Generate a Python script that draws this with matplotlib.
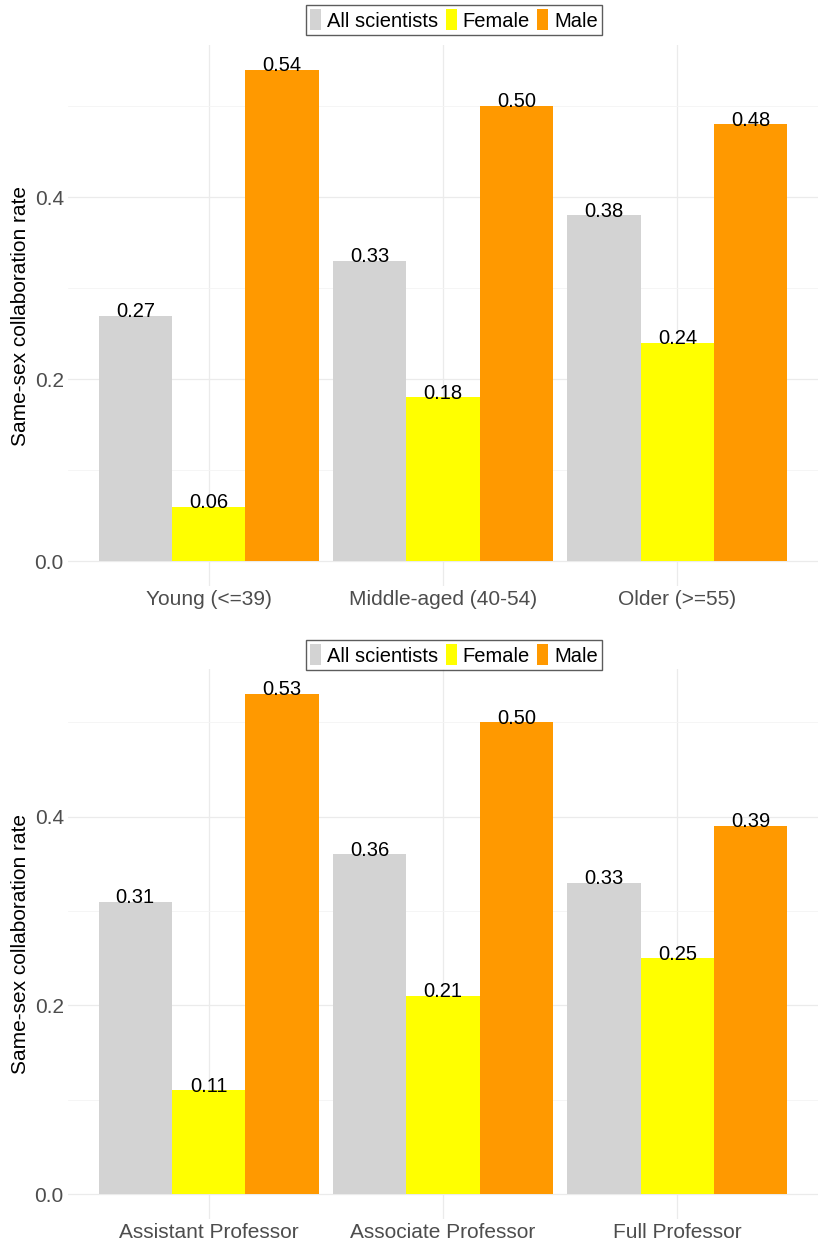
import numpy as np
import matplotlib
matplotlib.use('Agg')
import matplotlib.pyplot as plt
import matplotlib.ticker as tick
from matplotlib.patches import Patch

plt.rcParams['font.family'] = ['Liberation Sans', 'DejaVu Sans']

# data
groups = ['All scientists', 'Female', 'Male']
colors = ['#d3d3d3', '#ffff00', '#ff9900']

age_cats = ['Young (<=39)', 'Middle-aged (40-54)', 'Older (>=55)']
age_all = [0.27, 0.33, 0.38]
age_female = [0.06, 0.18, 0.24]
age_male = [0.54, 0.50, 0.48]

rank_cats = ['Assistant Professor', 'Associate Professor', 'Full Professor']
rank_all = [0.31, 0.36, 0.33]
rank_female = [0.11, 0.21, 0.25]
rank_male = [0.53, 0.50, 0.39]

W, H = 832, 1241
fig = plt.figure(figsize=(W/100, H/100), dpi=100)

def px_axes(left, top, right, bottom):
    return fig.add_axes([left/W, 1 - bottom/H, (right-left)/W, (bottom-top)/H])

def panel(ax, cats, series, legend_y):
    x = np.arange(1, len(cats)+1)
    bw = 0.313
    for i, (vals, c) in enumerate(zip(series, colors)):
        xs = x + (i-1)*bw
        ax.bar(xs, vals, width=bw, color=c, zorder=2, linewidth=0)
        for xi, v in zip(xs, vals):
            ax.annotate(f'{v:.2f}', (xi, v), xytext=(0, -1), textcoords='offset points',
                        ha='center', va='baseline', fontsize=14.5, color='black', zorder=3)
    top = max(max(s) for s in series)
    ax.set_xlim(0.4, len(cats)+0.6)
    ax.set_ylim(-0.05*top, 1.05*top)
    ax.set_xticks(x)
    ax.set_xticklabels(cats)
    ax.yaxis.set_major_locator(tick.MultipleLocator(0.2))
    ax.yaxis.set_minor_locator(tick.MultipleLocator(0.1))
    ax.yaxis.set_major_formatter(tick.FormatStrFormatter('%.1f'))
    ax.tick_params(length=0, labelsize=15, labelcolor='#4d4d4d', pad=3)
    ax.tick_params(which='minor', length=0)
    ax.grid(which='major', color='#ebebeb', lw=0.9, zorder=0)
    ax.grid(which='minor', axis='y', color='#f4f4f4', lw=0.6, zorder=0)
    for s in ax.spines.values():
        s.set_visible(False)
    ax.set_ylabel('Same-sex collaboration rate', fontsize=15, labelpad=3)
    handles = [Patch(facecolor=c, edgecolor='none') for c in colors]
    fig.legend(handles, groups, loc='center', bbox_to_anchor=(454/W, 1 - legend_y/H),
               ncol=3, frameon=True, fancybox=False, edgecolor='#333333', fontsize=14.5,
               handlelength=0.55, handleheight=1.2, handletextpad=0.3, columnspacing=0.35,
               borderpad=0.2, borderaxespad=0)

ax1 = px_axes(68, 45, 818, 586)
panel(ax1, age_cats, [age_all, age_female, age_male], 20)

ax2 = px_axes(68, 669, 818, 1219)
panel(ax2, rank_cats, [rank_all, rank_female, rank_male], 655)

fig.savefig('out.png', dpi=100)
